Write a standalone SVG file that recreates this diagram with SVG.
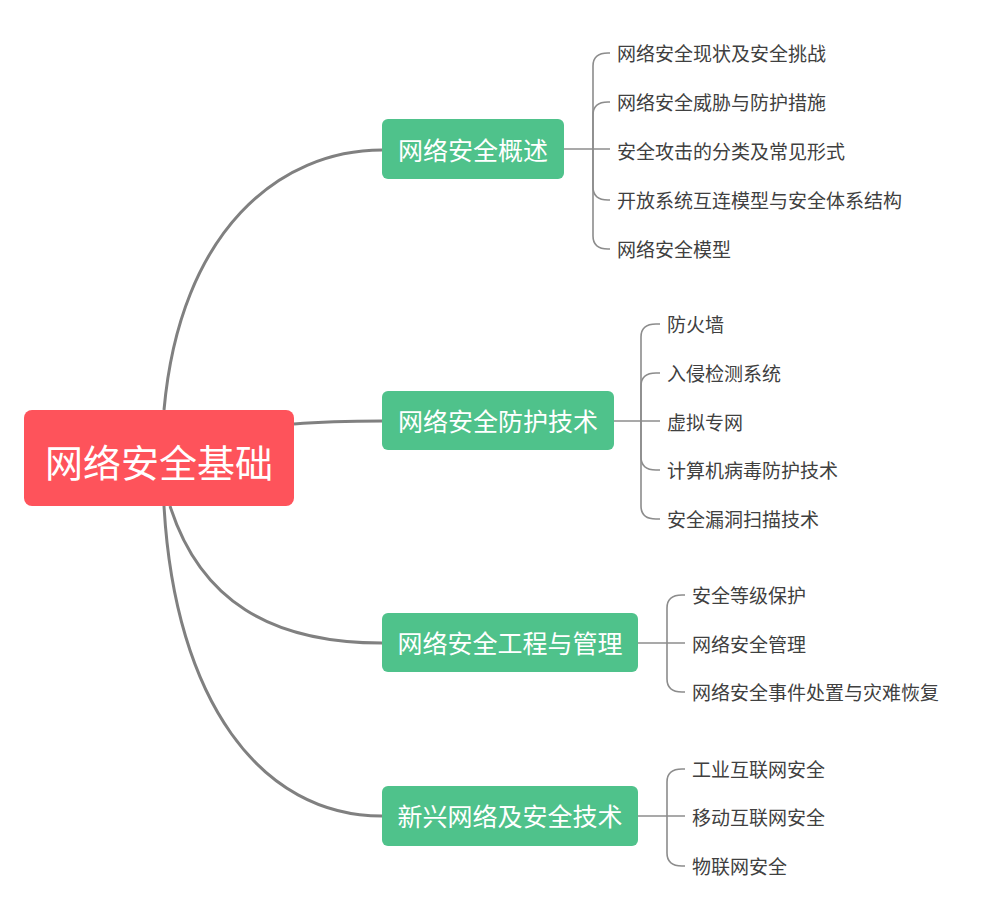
<svg xmlns="http://www.w3.org/2000/svg" width="982" height="914" viewBox="0 0 982 914">
<style>
.main{fill:none;stroke:#808080;stroke-width:3}
.br{fill:none;stroke:#8c8c8c;stroke-width:1.6}
.box{fill:#4fc28b}
.root{fill:#fe535b}
.t1{font-family:"Noto Sans CJK SC","Noto Sans",sans-serif;fill:#fff;text-anchor:middle;dominant-baseline:central}
.leaf{font-family:"Noto Sans CJK SC","Noto Sans",sans-serif;font-size:19px;fill:#404040;dominant-baseline:central}
</style>
<rect width="982" height="914" fill="#fff"/>
<g id="connectors">
<path class="main" d="M164,410 C180,230 280,150 382,150"/>
<path class="main" d="M294,424 C330,421 350,421 382,421"/>
<path class="main" d="M170,506 C200,600 270,643 382,643"/>
<path class="main" d="M164,506 C175,700 260,816 382,816"/>
<g id="b1">
<path class="br" d="M564,149 L610,149"/>
<path class="br" d="M593,149 L593,66 Q593,53 608,53 L610,53"/>
<path class="br" d="M593,149 L593,115 Q593,102 608,102 L610,102"/>
<path class="br" d="M593,149 L593,187 Q593,200 608,200 L610,200"/>
<path class="br" d="M593,149 L593,236 Q593,249 608,249 L610,249"/>
</g>
<g id="b2">
<path class="br" d="M614,421 L660,421"/>
<path class="br" d="M641,421 L641,337 Q641,324 656,324 L660,324"/>
<path class="br" d="M641,421 L641,386 Q641,373 656,373 L660,373"/>
<path class="br" d="M641,421 L641,457 Q641,470 656,470 L660,470"/>
<path class="br" d="M641,421 L641,506 Q641,519 656,519 L660,519"/>
</g>
<g id="b3">
<path class="br" d="M638,643 L685,643"/>
<path class="br" d="M667,643 L667,608 Q667,595 682,595 L685,595"/>
<path class="br" d="M667,643 L667,679 Q667,692 682,692 L685,692"/>
</g>
<g id="b4">
<path class="br" d="M638,816 L685,816"/>
<path class="br" d="M667,816 L667,782 Q667,769 682,769 L685,769"/>
<path class="br" d="M667,816 L667,853 Q667,866 682,866 L685,866"/>
</g>
</g>
<g id="root">
<rect class="root" x="24" y="410" width="270" height="96" rx="8"/>
<text class="t1" x="159" y="460" font-size="38">网络安全基础</text>
</g>
<g id="n1">
<rect class="box" x="382" y="119" width="182" height="60" rx="6"/>
<text class="t1" x="473" y="149" font-size="25">网络安全概述</text>
</g>
<g id="n2">
<rect class="box" x="382" y="391" width="232" height="59" rx="6"/>
<text class="t1" x="498" y="420" font-size="25">网络安全防护技术</text>
</g>
<g id="n3">
<rect class="box" x="382" y="613" width="256" height="59" rx="6"/>
<text class="t1" x="510" y="642" font-size="25">网络安全工程与管理</text>
</g>
<g id="n4">
<rect class="box" x="382" y="786" width="256" height="60" rx="6"/>
<text class="t1" x="510" y="815" font-size="25">新兴网络及安全技术</text>
</g>
<g id="leaves1">
<text class="leaf" x="617" y="52">网络安全现状及安全挑战</text>
<text class="leaf" x="617" y="101">网络安全威胁与防护措施</text>
<text class="leaf" x="617" y="150">安全攻击的分类及常见形式</text>
<text class="leaf" x="617" y="199">开放系统互连模型与安全体系结构</text>
<text class="leaf" x="617" y="248">网络安全模型</text>
</g>
<g id="leaves2">
<text class="leaf" x="667" y="323">防火墙</text>
<text class="leaf" x="667" y="372">入侵检测系统</text>
<text class="leaf" x="667" y="421">虚拟专网</text>
<text class="leaf" x="667" y="469">计算机病毒防护技术</text>
<text class="leaf" x="667" y="518">安全漏洞扫描技术</text>
</g>
<g id="leaves3">
<text class="leaf" x="692" y="594">安全等级保护</text>
<text class="leaf" x="692" y="643">网络安全管理</text>
<text class="leaf" x="692" y="691">网络安全事件处置与灾难恢复</text>
</g>
<g id="leaves4">
<text class="leaf" x="692" y="768">工业互联网安全</text>
<text class="leaf" x="692" y="816">移动互联网安全</text>
<text class="leaf" x="692" y="865">物联网安全</text>
</g>
</svg>
